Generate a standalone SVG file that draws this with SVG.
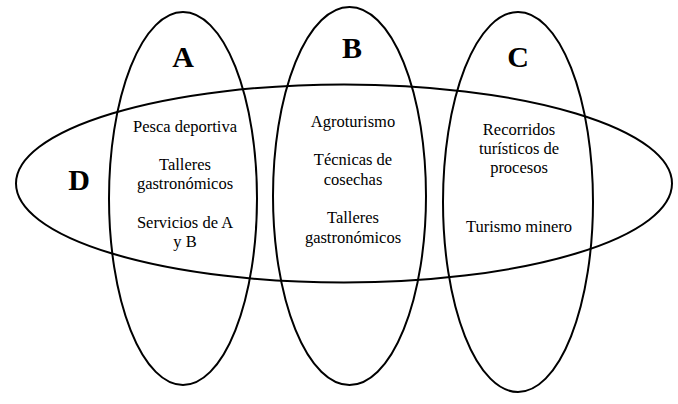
<svg xmlns="http://www.w3.org/2000/svg" width="678" height="404" viewBox="0 0 678 404">
<style>
.set{fill:none;stroke:#000;stroke-width:2}
.lbl{font-family:"Liberation Serif","Times New Roman",serif;font-weight:bold;font-size:30px;text-anchor:middle;fill:#000}
.t{font-family:"Liberation Serif","Times New Roman",serif;font-size:16.5px;text-anchor:middle;fill:#000}
</style>
<rect width="678" height="404" fill="#fff"/>
<g id="setA">
<ellipse class="set" cx="183" cy="198.5" rx="74" ry="186.5"/>
<text class="lbl" x="183" y="67">A</text>
</g>
<g id="setB">
<ellipse class="set" cx="349.5" cy="196" rx="76.5" ry="189"/>
<text class="lbl" x="352" y="58">B</text>
</g>
<g id="setC">
<ellipse class="set" cx="518" cy="202" rx="75" ry="190"/>
<text class="lbl" x="518" y="67">C</text>
</g>
<g id="setD">
<ellipse class="set" cx="344" cy="183.5" rx="328" ry="99"/>
<text class="lbl" x="79" y="190">D</text>
</g>
<g id="textA">
<text class="t" x="185" y="132">Pesca deportiva</text>
<text class="t" x="185" y="170">Talleres</text>
<text class="t" x="185" y="189">gastronómicos</text>
<text class="t" x="185" y="228">Servicios de A</text>
<text class="t" x="185" y="247">y B</text>
</g>
<g id="textB">
<text class="t" x="353" y="127">Agroturismo</text>
<text class="t" x="353" y="165">Técnicas de</text>
<text class="t" x="353" y="185">cosechas</text>
<text class="t" x="353" y="223">Talleres</text>
<text class="t" x="353" y="243">gastronómicos</text>
</g>
<g id="textC">
<text class="t" x="519" y="135">Recorridos</text>
<text class="t" x="519" y="154">turísticos de</text>
<text class="t" x="519" y="173">procesos</text>
<text class="t" x="519" y="232">Turismo minero</text>
</g>
<g id="connectors"></g>
</svg>
